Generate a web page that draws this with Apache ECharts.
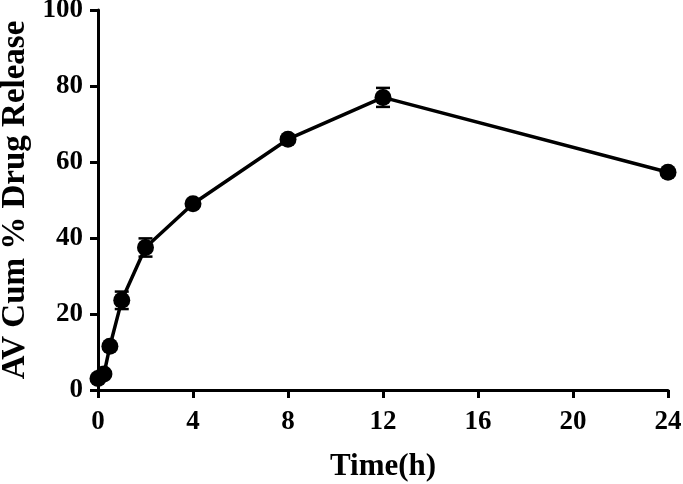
<!DOCTYPE html>
<html><head><meta charset="utf-8">
<script src="https://cdn.jsdelivr.net/npm/echarts@6/dist/echarts.min.js"></script>
<style>html,body{margin:0;padding:0;background:#fff}#c{width:683px;height:484px}</style>
</head><body><div id="c"></div>
<script>
const times = [0, 0.25, 0.5, 1, 2, 4, 8, 12, 24];
const release = [3.0, 4.2, 11.5, 23.6, 37.5, 49.0, 66.0, 77.0, 57.3];
const errors = [0, 0, 0, 2.3, 2.4, 0, 0, 2.5, 0];
const xTitle = 'Time(h)';
const yTitle = 'AV Cum % Drug Release';

const font = "'Liberation Serif','Times New Roman',serif";
const pts = times.map((t, i) => [t, release[i]]);
const errData = times.map((t, i) => [t, release[i], errors[i]]).filter(d => d[2] > 0);

const chart = echarts.init(document.getElementById('c'));
chart.setOption({
  animation: false,
  grid: { left: 98, top: 10, right: 15, bottom: 94, outerBoundsMode: 'none', containLabel: false },
  xAxis: {
    type: 'value', min: 0, max: 24, interval: 4,
    name: xTitle, nameLocation: 'middle', nameGap: 61,
    nameTextStyle: { fontFamily: font, fontWeight: 'bold', fontSize: 31, color: '#000' },
    axisLine: { onZero: false, lineStyle: { color: '#000', width: 3 } },
    axisTick: { show: true, length: 8, lineStyle: { color: '#000', width: 3 } },
    axisLabel: { fontFamily: font, fontWeight: 'bold', fontSize: 27, color: '#000', margin: 19 },
    splitLine: { show: false }
  },
  yAxis: {
    type: 'value', min: 0, max: 100, interval: 20,
    name: yTitle, nameLocation: 'middle', nameGap: 64,
    nameTextStyle: { fontFamily: font, fontWeight: 'bold', fontSize: 33, color: '#000' },
    axisLine: { show: true, lineStyle: { color: '#000', width: 3 } },
    axisTick: { show: true, length: 8, lineStyle: { color: '#000', width: 3 } },
    axisLabel: { fontFamily: font, fontWeight: 'bold', fontSize: 27, color: '#000', margin: 15 },
    splitLine: { show: false }
  },
  series: [
    {
      type: 'custom',
      data: errData,
      z: 3,
      renderItem: function (params, api) {
        const x = api.value(0), y = api.value(1), e = api.value(2);
        const top = api.coord([x, y + e]);
        const bot = api.coord([x, y - e]);
        const hw = 7;
        const style = { stroke: '#000', lineWidth: 2.5 };
        return { type: 'group', children: [
          { type: 'line', shape: { x1: top[0], y1: top[1], x2: bot[0], y2: bot[1] }, style: style },
          { type: 'line', shape: { x1: top[0] - hw, y1: top[1], x2: top[0] + hw, y2: top[1] }, style: style },
          { type: 'line', shape: { x1: bot[0] - hw, y1: bot[1], x2: bot[0] + hw, y2: bot[1] }, style: style }
        ]};
      }
    },
    {
      type: 'line',
      data: pts,
      z: 4,
      symbol: 'circle', symbolSize: 17,
      lineStyle: { color: '#000', width: 3.5 },
      itemStyle: { color: '#000' }
    }
  ]
});
</script></body></html>
